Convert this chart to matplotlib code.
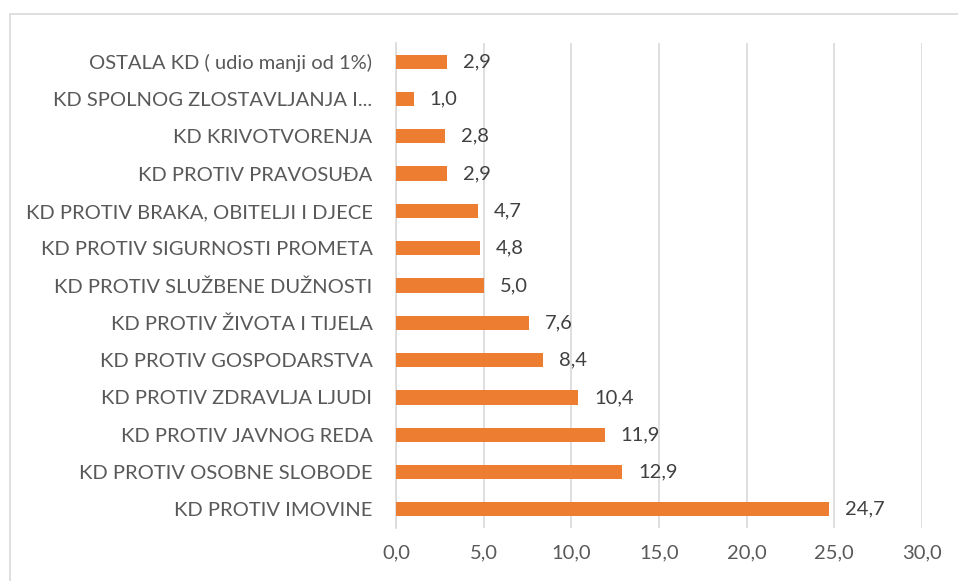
import matplotlib.pyplot as plt
from matplotlib.patches import Rectangle

# === Data (bottom to top) ===
categories = [
    "KD PROTIV IMOVINE",
    "KD PROTIV OSOBNE SLOBODE",
    "KD PROTIV JAVNOG REDA",
    "KD PROTIV ZDRAVLJA LJUDI",
    "KD PROTIV GOSPODARSTVA",
    "KD PROTIV ŽIVOTA I TIJELA",
    "KD PROTIV SLUŽBENE DUŽNOSTI",
    "KD PROTIV SIGURNOSTI PROMETA",
    "KD PROTIV BRAKA, OBITELJI I DJECE",
    "KD PROTIV PRAVOSUĐA",
    "KD KRIVOTVORENJA",
    "KD SPOLNOG ZLOSTAVLJANJA I...",
    "OSTALA KD ( udio manji od 1%)",
]
values = [24.7, 12.9, 11.9, 10.4, 8.4, 7.6, 5.0, 4.8, 4.7, 2.9, 2.8, 1.0, 2.9]
x_ticks = [0, 5, 10, 15, 20, 25, 30]

plt.rcParams['font.family'] = ['Lato', 'DejaVu Sans']

W, H = 958, 581
fig = plt.figure(figsize=(W / 100, H / 100), dpi=100)

# outer chart border (cropped at right and bottom)
fig.patches.append(Rectangle((10 / W, -0.1), 1.2, 1 - 14 / H + 0.1,
                             transform=fig.transFigure, fill=False,
                             edgecolor='#d9d9d9', linewidth=1.2))

left, right, top, bottom = 396, 922, 43, 528
ax = fig.add_axes([left / W, 1 - bottom / H, (right - left) / W, (bottom - top) / H])

pos = range(len(categories))
ax.barh(pos, values, height=0.38, color='#ED7D31', zorder=3)

for y, v in zip(pos, values):
    ax.text(v + 0.9, y, f"{v:.1f}".replace('.', ','), va='center', ha='left',
            fontsize=14.5, color='#404040')

ax.set_xlim(0, 30)
ax.set_ylim(-0.5, len(categories) - 0.5)
ax.set_xticks(x_ticks)
ax.set_xticklabels([f"{t:.1f}".replace('.', ',') for t in x_ticks])
ax.set_yticks(list(pos))
ax.set_yticklabels(categories)
ax.tick_params(axis='both', length=0, labelsize=14.5, labelcolor='#595959')
ax.tick_params(axis='y', pad=17)
ax.tick_params(axis='x', pad=12)
ax.grid(axis='x', color='#d9d9d9', linewidth=1.2, zorder=0)
for s in ['top', 'right', 'bottom']:
    ax.spines[s].set_visible(False)
ax.spines['left'].set_color('#d9d9d9')
ax.spines['left'].set_linewidth(1.2)

plt.savefig("out.png", dpi=100)
